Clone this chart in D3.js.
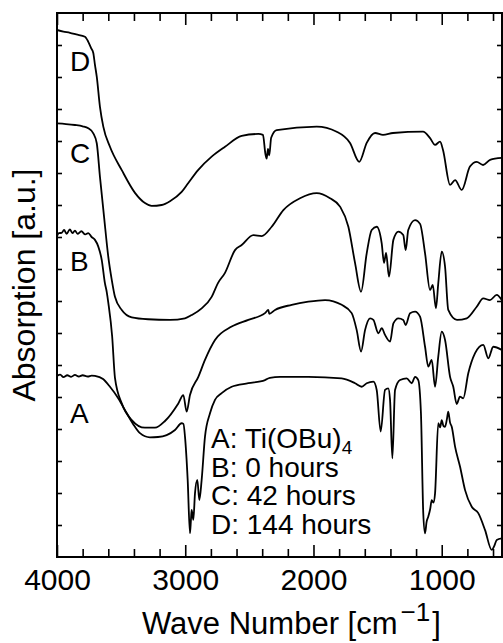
<!DOCTYPE html>
<html>
<head>
<meta charset="utf-8">
<script src="https://cdn.jsdelivr.net/npm/d3@7"></script>
<style>
  body { margin: 0; background: #fff; }
  text { font-family: "Liberation Sans", Arial, sans-serif; fill: #000; }
</style>
</head>
<body>
<svg id="chart" width="503" height="643"></svg>
<script>
// IR spectra, [wavenumber cm^-1, absorption (a.u., offset)]
const curveA = [[4000,5.66],[3975,5.70],[3950,5.62],[3920,5.68],[3890,5.63],[3860,5.69],[3830,5.64],[3800,5.68],[3760,5.64],[3730,5.67],[3704,5.66],[3641,5.56],[3587,5.32],[3524,4.97],[3456,4.49],[3407,4.16],[3353,3.87],[3275,3.74],[3212,3.75],[3145,3.81],[3080,3.97],[3028,4.18],[3014,4.16],[3002,3.76],[2981,2.41],[2963,0.74],[2955,1.2],[2950,1.47],[2937,1.16],[2924,1.99],[2906,2.41],[2890,1.78],[2872,2.41],[2846,3.76],[2807,4.49],[2768,4.91],[2716,5.12],[2638,5.32],[2508,5.43],[2378,5.53],[2340,5.6],[2261,5.63],[2040,5.63],[1780,5.58],[1676,5.43],[1624,5.32],[1585,5.43],[1533,5.48],[1507,5.22],[1476,3.92],[1442,5.22],[1417,5.27],[1403,4.91],[1385,3.08],[1364,5.22],[1325,5.53],[1273,5.58],[1234,5.43],[1208,5.63],[1183,5.53],[1162,4.49],[1144,1.37],[1130,0.74],[1118,1.1],[1105,1.26],[1090,1.5],[1078,1.78],[1065,1.7],[1052,1.99],[1027,4.18],[1012,4.05],[1000,4.28],[987,4.1],[974,4.07],[960,4.3],[949,4.54],[935,4.2],[922,4.07],[896,3.45],[857,2.82],[818,2.09],[766,1.57],[715,1.37],[662,0.84],[610,0.22],[590,0.35],[571,0.53],[532,0.58]];

const curveB = [[4000,10.03],[3985,10.12],[3963,10.13],[3945,10.22],[3925,10.10],[3900,10.24],[3880,10.12],[3860,10.20],[3840,10.10],[3810,10.18],[3780,10.08],[3756,10.12],[3730,10.0],[3704,9.91],[3678,9.70],[3651,9.28],[3626,8.55],[3612,8.28],[3600,7.95],[3570,6.9],[3548,5.6],[3495,4.80],[3417,4.28],[3314,4.04],[3236,4.04],[3158,4.25],[3054,4.80],[3015,5.06],[2989,4.54],[2963,5.06],[2898,5.63],[2846,6.16],[2768,6.78],[2638,7.20],[2508,7.41],[2378,7.62],[2352,7.72],[2345,7.6],[2300,7.72],[2170,7.88],[2040,7.98],[1910,8.03],[1780,7.88],[1702,7.62],[1663,7.09],[1629,6.42],[1598,7.09],[1559,7.46],[1533,7.41],[1494,6.99],[1468,7.15],[1442,6.94],[1403,6.73],[1377,7.30],[1338,7.46],[1300,7.41],[1281,7.25],[1247,7.62],[1208,7.67],[1169,7.51],[1130,6.57],[1105,5.95],[1078,6.16],[1052,5.32],[1027,6.26],[1000,7.04],[974,6.78],[935,5.63],[910,5.32],[883,4.78],[858,5.01],[832,4.96],[793,5.74],[740,6.37],[676,6.63],[637,6.21],[598,6.57],[532,6.47]];

const curveC = [[4000,13.55],[3930,13.53],[3860,13.50],[3800,13.46],[3756,13.40],[3717,13.24],[3690,12.93],[3665,11.88],[3633,10.63],[3600,9.38],[3573,8.66],[3548,8.13],[3495,7.72],[3417,7.49],[3290,7.43],[3119,7.41],[3002,7.46],[2950,7.56],[2872,7.77],[2794,8.13],[2745,8.56],[2690,8.88],[2612,9.59],[2560,9.75],[2469,10.06],[2404,10.03],[2326,10.32],[2235,10.84],[2105,11.21],[1975,11.37],[1871,11.21],[1793,10.95],[1728,10.32],[1676,9.19],[1629,8.29],[1585,9.49],[1546,10.22],[1507,10.32],[1468,9.8],[1450,9.19],[1434,9.5],[1411,8.76],[1377,9.91],[1338,10.17],[1300,10.06],[1281,9.59],[1261,10.22],[1208,10.53],[1169,10.41],[1130,9.49],[1091,8.34],[1070,8.5],[1045,7.77],[1027,8.55],[1000,9.54],[974,9.07],[949,7.72],[881,7.41],[805,7.46],[727,7.82],[676,8.08],[624,8.03],[571,8.19],[532,8.03]];

const curveD = [[4000,16.47],[3950,16.42],[3899,16.38],[3850,16.33],[3782,16.26],[3756,16.10],[3735,15.91],[3717,15.75],[3704,15.38],[3690,15.01],[3665,14.07],[3639,13.45],[3587,12.82],[3495,12.09],[3392,11.38],[3314,11.06],[3262,10.97],[3184,11.0],[3119,11.12],[3028,11.41],[2976,11.69],[2900,12.09],[2794,12.51],[2690,12.82],[2560,13.16],[2430,13.22],[2394,13.19],[2375,12.6],[2365,12.45],[2355,12.75],[2345,12.55],[2330,13.1],[2287,13.34],[1975,13.45],[1819,13.29],[1715,12.94],[1643,12.35],[1585,12.94],[1520,13.25],[1458,13.19],[1380,13.25],[1146,13.29],[1091,13.09],[1052,12.88],[1013,12.98],[990,12.72],[935,11.63],[896,11.78],[844,11.47],[780,12.2],[727,12.35],[678,12.25],[623,12.41],[532,12.47]];

const curveNames = ['A', 'B', 'C', 'D'];
const curveLabelY = [4.2, 8.95, 12.3, 15.2];   // where the letter sits
const legendLines = ['A: Ti(OBu)', 'B: 0 hours', 'C: 42 hours', 'D: 144 hours'];
const majorTicks = [4000, 3000, 2000, 1000];

const svg = d3.select('#chart');

const x = d3.scaleLinear().domain([4000, 530]).range([57, 502]);
const y = d3.scaleLinear().domain([0, 17]).range([557, 13]);

svg.append('clipPath').attr('id', 'plot-clip')
    .append('rect')
    .attr('x', 57).attr('y', 13).attr('width', 445).attr('height', 544);

const line = d3.line()
    .x((d) => x(d[0]))
    .y((d) => y(d[1]))
    .curve(d3.curveMonotoneX);

svg.append('g')
    .attr('clip-path', 'url(#plot-clip)')
    .selectAll('path')
    .data([curveA, curveB, curveC, curveD])
    .join('path')
    .attr('d', line)
    .attr('fill', 'none')
    .attr('stroke', '#000')
    .attr('stroke-width', 1.8)
    .attr('stroke-linejoin', 'round');

// ticks (all pointing inward)
const minorTicks = d3.range(3800, 530, -200).filter((v) => !majorTicks.includes(v));
const yTicks = d3.range(1, 17);

function styleAxis(g) {
    g.select('.domain').remove();
    g.selectAll('line').attr('stroke', '#000').attr('stroke-width', 1.6);
}

svg.append('g').attr('transform', 'translate(0,557)')
    .call(d3.axisBottom(x).tickValues(majorTicks).tickSizeInner(-12).tickSizeOuter(0)
        .tickPadding(12).tickFormat(d3.format('d')))
    .call(styleAxis)
    .selectAll('text').style('font-size', '30px');

svg.append('g').attr('transform', 'translate(0,557)')
    .call(d3.axisBottom(x).tickValues(minorTicks).tickSizeInner(-8).tickSizeOuter(0).tickFormat(''))
    .call(styleAxis);

svg.append('g').attr('transform', 'translate(0,13)')
    .call(d3.axisTop(x).tickValues(majorTicks).tickSizeInner(-12).tickSizeOuter(0).tickFormat(''))
    .call(styleAxis);

svg.append('g').attr('transform', 'translate(0,13)')
    .call(d3.axisTop(x).tickValues(minorTicks).tickSizeInner(-8).tickSizeOuter(0).tickFormat(''))
    .call(styleAxis);

svg.append('g').attr('transform', 'translate(57,0)')
    .call(d3.axisLeft(y).tickValues(yTicks).tickSizeInner(-5).tickSizeOuter(0).tickFormat(''))
    .call(styleAxis);

svg.append('g').attr('transform', 'translate(502,0)')
    .call(d3.axisRight(y).tickValues(yTicks).tickSizeInner(-5).tickSizeOuter(0).tickFormat(''))
    .call(styleAxis);

// frame
svg.append('rect')
    .attr('x', 57).attr('y', 13).attr('width', 445).attr('height', 544)
    .attr('fill', 'none').attr('stroke', '#000').attr('stroke-width', 2);

// curve letters
svg.append('g').selectAll('text')
    .data(curveNames)
    .join('text')
    .attr('x', 70)
    .attr('y', (d, i) => y(curveLabelY[i]))
    .style('font-size', '28px')
    .text((d) => d);

// legend
const legend = svg.append('g');
legendLines.forEach((t, i) => {
    const txt = legend.append('text')
        .attr('x', 211)
        .attr('y', 448 + i * 28.5)
        .style('font-size', '28px')
        .text(t);
    if (i === 0) {
        txt.append('tspan').attr('dy', 6).style('font-size', '19px').text('4');
    }
});

// axis titles
const xt = svg.append('text')
    .attr('x', 142).attr('y', 634)
    .style('font-size', '31px');
xt.append('tspan').text('Wave Number [cm');
xt.append('tspan').attr('dy', -13).attr('dx', 3).style('font-size', '26px').text('\u22121');
xt.append('tspan').attr('dy', 13).attr('dx', 2).text(']');

svg.append('text')
    .attr('transform', 'translate(35,285) rotate(-90)')
    .attr('text-anchor', 'middle')
    .style('font-size', '32px')
    .text('Absorption [a.u.]');
</script>
</body>
</html>
